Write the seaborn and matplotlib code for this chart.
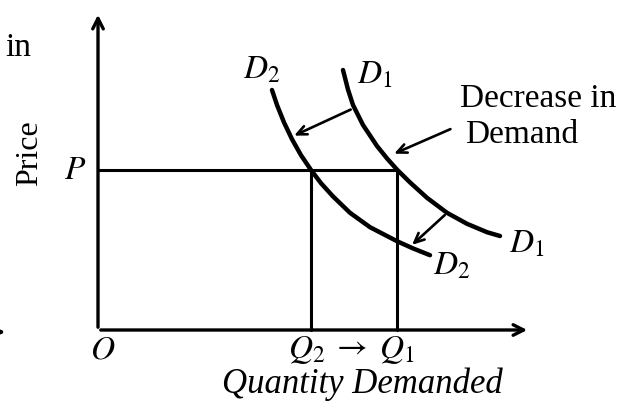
import numpy as np
import pandas as pd
import matplotlib
matplotlib.use('Agg')
import matplotlib.pyplot as plt
import seaborn as sns

sns.set_style('white')
plt.rcParams['font.family'] = ['Liberation Serif', 'DejaVu Serif']
plt.rcParams['mathtext.fontset'] = 'stix'
plt.rcParams['text.color'] = 'black'

# demand curves (quantity, price)
d1_q = [6.125, 6.25, 6.375, 6.625, 6.975, 7.225, 7.475, 7.8, 8.225, 8.725, 9.225, 9.725, 10.05]
d1_p = [6.5, 6.01, 5.625, 5.125, 4.6, 4.29, 4.01, 3.69, 3.305, 2.93, 2.655, 2.445, 2.35]
d2_q = [4.35, 4.475, 4.65, 4.85, 5.075, 5.325, 5.575, 5.875, 6.3, 6.8, 7.475, 7.875, 8.3]
d2_p = [6.0, 5.625, 5.19, 4.77, 4.37, 4.0, 3.67, 3.34, 2.93, 2.57, 2.22, 2.04, 1.87]

price_p = 4.0
q1 = 7.475
q2 = 5.325

# shift arrows: (start q, start p, end q, end p)
shift_arrows = [(6.38, 5.54, 4.84, 4.83), (8.72, 2.92, 7.80, 2.08)]
note_arrow = (8.875, 5.05, 7.34, 4.38)

df = pd.concat([
    pd.DataFrame({'q': d1_q, 'p': d1_p, 'curve': 'D1'}),
    pd.DataFrame({'q': d2_q, 'p': d2_p, 'curve': 'D2'}),
])

fig = plt.figure(figsize=(6.44, 4.13), dpi=100)
ax = fig.add_axes([0, 0, 1, 1])
ax.set_xlim(-2.45, 13.65)
ax.set_ylim(-2.075, 8.25)
ax.axis('off')

sns.lineplot(data=df, x='q', y='p', units='curve', estimator=None, sort=False,
             color='black', lw=3.2, ax=ax, solid_joinstyle='round', solid_capstyle='round')

# axes with arrows
arr = dict(arrowstyle='->,head_length=0.75,head_width=0.38', color='black', lw=2.4)
ax.annotate('', xy=(0, 7.95), xytext=(0, 0), arrowprops=arr)
ax.annotate('', xy=(10.8, 0), xytext=(0, 0), arrowprops=arr)
ax.annotate('', xy=(-2.25, -0.05), xytext=(-3.5, -0.05), arrowprops=arr, annotation_clip=False)

# price / quantity guide lines
ax.plot([0, q1], [price_p, price_p], color='black', lw=2.2)
ax.plot([q2, q2], [0, price_p], color='black', lw=2.2)
ax.plot([q1, q1], [0, price_p], color='black', lw=2.2)

sarr = dict(arrowstyle='->,head_length=0.7,head_width=0.32', color='black', lw=1.9)
for x0, y0, x1, y1 in shift_arrows:
    ax.annotate('', xy=(x1, y1), xytext=(x0, y0), arrowprops=sarr)
ax.annotate('', xy=note_arrow[2:], xytext=note_arrow[:2], arrowprops=sarr)

ms = 24
fs = 24
ax.text(4.1, 6.5, '$D_2$', fontsize=ms, ha='center', va='center')
ax.text(6.93, 6.38, '$D_1$', fontsize=ms, ha='center', va='center')
ax.text(10.73, 2.15, '$D_1$', fontsize=ms, ha='center', va='center')
ax.text(8.85, 1.6, '$D_2$', fontsize=ms, ha='center', va='center')
ax.text(9.05, 5.575, 'Decrease in', fontsize=fs, ha='left', va='baseline')
ax.text(9.175, 4.675, 'Demand', fontsize=fs, ha='left', va='baseline')
ax.text(-0.575, 3.97, '$P$', fontsize=ms, ha='center', va='center')
ax.text(0.12, -0.5, '$O$', fontsize=ms, ha='center', va='center')
ax.text(q2 - 0.1, -0.5, '$Q_2$', fontsize=ms, ha='center', va='center')
ax.text(6.3, -0.4, '$\\rightarrow$', fontsize=ms, ha='center', va='center')
ax.text(q1, -0.5, '$Q_1$', fontsize=ms, ha='center', va='center')
ax.text(6.6, -1.575, 'Quantity Demanded', fontsize=25, style='italic', ha='center', va='baseline')
ax.text(-1.7, 4.43, 'Price', fontsize=23, rotation=90, ha='center', va='center')
ax.text(-2.325, 7.05, 'in', fontsize=fs, ha='left', va='center')

fig.savefig('out.png', dpi=100)
